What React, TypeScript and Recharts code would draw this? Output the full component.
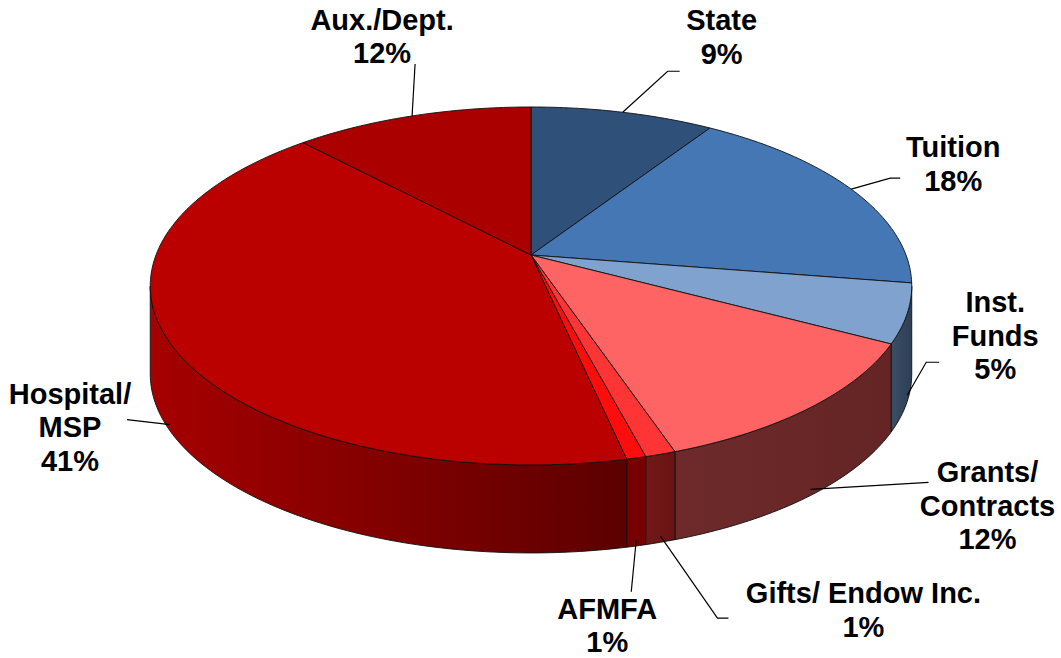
import { PieChart, Pie, Cell } from "recharts";

// slice order: clockwise from 12 o'clock
const names = ["State", "Tuition", "Inst.\nFunds", "Grants/\nContracts", "Gifts/ Endow Inc.", "AFMFA", "Hospital/\nMSP", "Aux./Dept."];
const values = [9.2, 18.3, 5.3, 12.0, 1.1, 0.7, 41.4, 12.0];
const topColors = ["#2E5079", "#4477B3", "#7FA3CE", "#FF6464", "#FF3434", "#FF0D0D", "#BB0000", "#AA0000"];
const wallColors = [
  ["#2E4666", "#2E4666"],
  ["#2E5A8C", "#2E5A8C"],
  ["#3A4E66", "#2E3F55"],
  ["#6E2A2A", "#652525"],
  ["#731818", "#6A1313"],
  ["#7A0000", "#740000"],
  ["#A60000", "#5C0000"],
  ["#900000", "#800000"],
];

// label placement relative to the rim anchor: leader bend points and text (center x, first baseline)
const labelLayout = [
  { leader: [[45, -41], [57, -41]], text: [99, -82] },
  { leader: [[39, -11], [49, -11]], text: [102, -32] },
  { leader: [[19, -33], [32, -33]], text: [88, -83] },
  { leader: [[118, -7]], text: [177, -7] },
  { leader: [[57, 82], [68, 82]], text: [203, 67] },
  { leader: [[-5, 52]], text: [-29, 79] },
  { leader: [[-43, -5]], text: [-100, -21] },
  { leader: [[3, -52]], text: [-30, -86] },
];

const data = names.map((name, i) => ({ name, value: values[i] }));

const TILT = 0.463;
const PERSP = 0.173;
const DEPTH = 88;
const FRONT = [-170, -10];

function project(cx: number, cy: number, r: number, deg: number, dz = 0): [number, number] {
  const rad = (deg * Math.PI) / 180;
  const d = Math.sin(rad);
  const f = 1 + PERSP * d;
  return [cx + (r * Math.cos(rad)) / f, cy - (r * TILT * d) / f + dz];
}

function arcPoints(cx: number, cy: number, r: number, from: number, to: number, dz = 0) {
  const pts: [number, number][] = [];
  const steps = Math.max(2, Math.ceil(Math.abs(to - from)));
  for (let i = 0; i <= steps; i++) pts.push(project(cx, cy, r, from + ((to - from) * i) / steps, dz));
  return pts;
}

const toPath = (pts: [number, number][]) => pts.map((p, i) => `${i ? "L" : "M"}${p[0].toFixed(2)},${p[1].toFixed(2)}`).join("");

function Slice3D(props: any) {
  const { cx, cy, outerRadius, startAngle, endAngle } = props;
  const idx = names.indexOf(props.name ?? props.payload?.name);
  const lo = Math.min(startAngle, endAngle);
  const hi = Math.max(startAngle, endAngle);
  const top = toPath([[cx, cy], ...arcPoints(cx, cy, outerRadius, hi, lo)]) + "Z";

  const wLo = Math.max(lo, FRONT[0]);
  const wHi = Math.min(hi, FRONT[1]);
  let wall = null;
  if (wHi > wLo) {
    const upper = arcPoints(cx, cy, outerRadius, wHi, wLo);
    const lower = arcPoints(cx, cy, outerRadius, wLo, wHi, DEPTH);
    const xs = upper.map((p) => p[0]);
    const gid = `wall-${idx}`;
    wall = (
      <g>
        <defs>
          <linearGradient id={gid} gradientUnits="userSpaceOnUse" x1={Math.min(...xs)} x2={Math.max(...xs)} y1={0} y2={0}>
            <stop offset="0%" stopColor={wallColors[idx][0]} />
            <stop offset="100%" stopColor={wallColors[idx][1]} />
          </linearGradient>
        </defs>
        <path d={toPath([...upper, ...lower]) + "Z"} fill={`url(#${gid})`} stroke="#111" strokeWidth={0.9} strokeLinejoin="round" />
      </g>
    );
  }
  return (
    <g>
      {wall}
      <path d={top} fill={topColors[idx]} stroke="#111" strokeWidth={0.9} strokeLinejoin="round" />
    </g>
  );
}

function SliceLabel(props: any) {
  const { cx, cy, outerRadius, midAngle, percent, name } = props;
  const idx = names.indexOf(name);
  const rad = (midAngle * Math.PI) / 180;
  const front = Math.sin(rad) < 0;
  const [ax, ay] = project(cx, cy, outerRadius, midAngle, front ? DEPTH * 0.93 : 0);
  const lay = labelLayout[idx];
  const pts: [number, number][] = [[ax, ay], ...lay.leader.map(([dx, dy]) => [ax + dx, ay + dy] as [number, number])];
  const tx = ax + lay.text[0];
  const ty = ay + lay.text[1];
  const lines = [...name.split("\n"), `${Math.round(percent * 100)}%`];
  return (
    <g>
      <path d={toPath(pts)} fill="none" stroke="#000" strokeWidth={1.2} />
      <text x={tx} y={ty} textAnchor="middle" fontFamily="'Liberation Sans', Arial, sans-serif" fontWeight="bold" fontSize={29} fill="#000">
        {lines.map((l, i) => (
          <tspan key={i} x={tx} dy={i === 0 ? 0 : 33.5}>
            {l}
          </tspan>
        ))}
      </text>
    </g>
  );
}

export default function App() {
  return (
    <div style={{ width: 1061, height: 658, background: "#fff" }}>
      <style>{"body{margin:0}"}</style>
      <PieChart width={1061} height={658} margin={{ top: 0, right: 0, bottom: 0, left: 0 }}>
        <Pie
          data={data}
          dataKey="value"
          nameKey="name"
          cx={531}
          cy={255}
          outerRadius={375}
          startAngle={90}
          endAngle={-270}
          stroke="none"
          isAnimationActive={false}
          {...({ shape: Slice3D } as any)}
          activeShape={Slice3D}
          label={SliceLabel}
          labelLine={false}
        >
          {data.map((d, i) => (
            <Cell key={d.name} fill={topColors[i]} />
          ))}
        </Pie>
      </PieChart>
    </div>
  );
}
